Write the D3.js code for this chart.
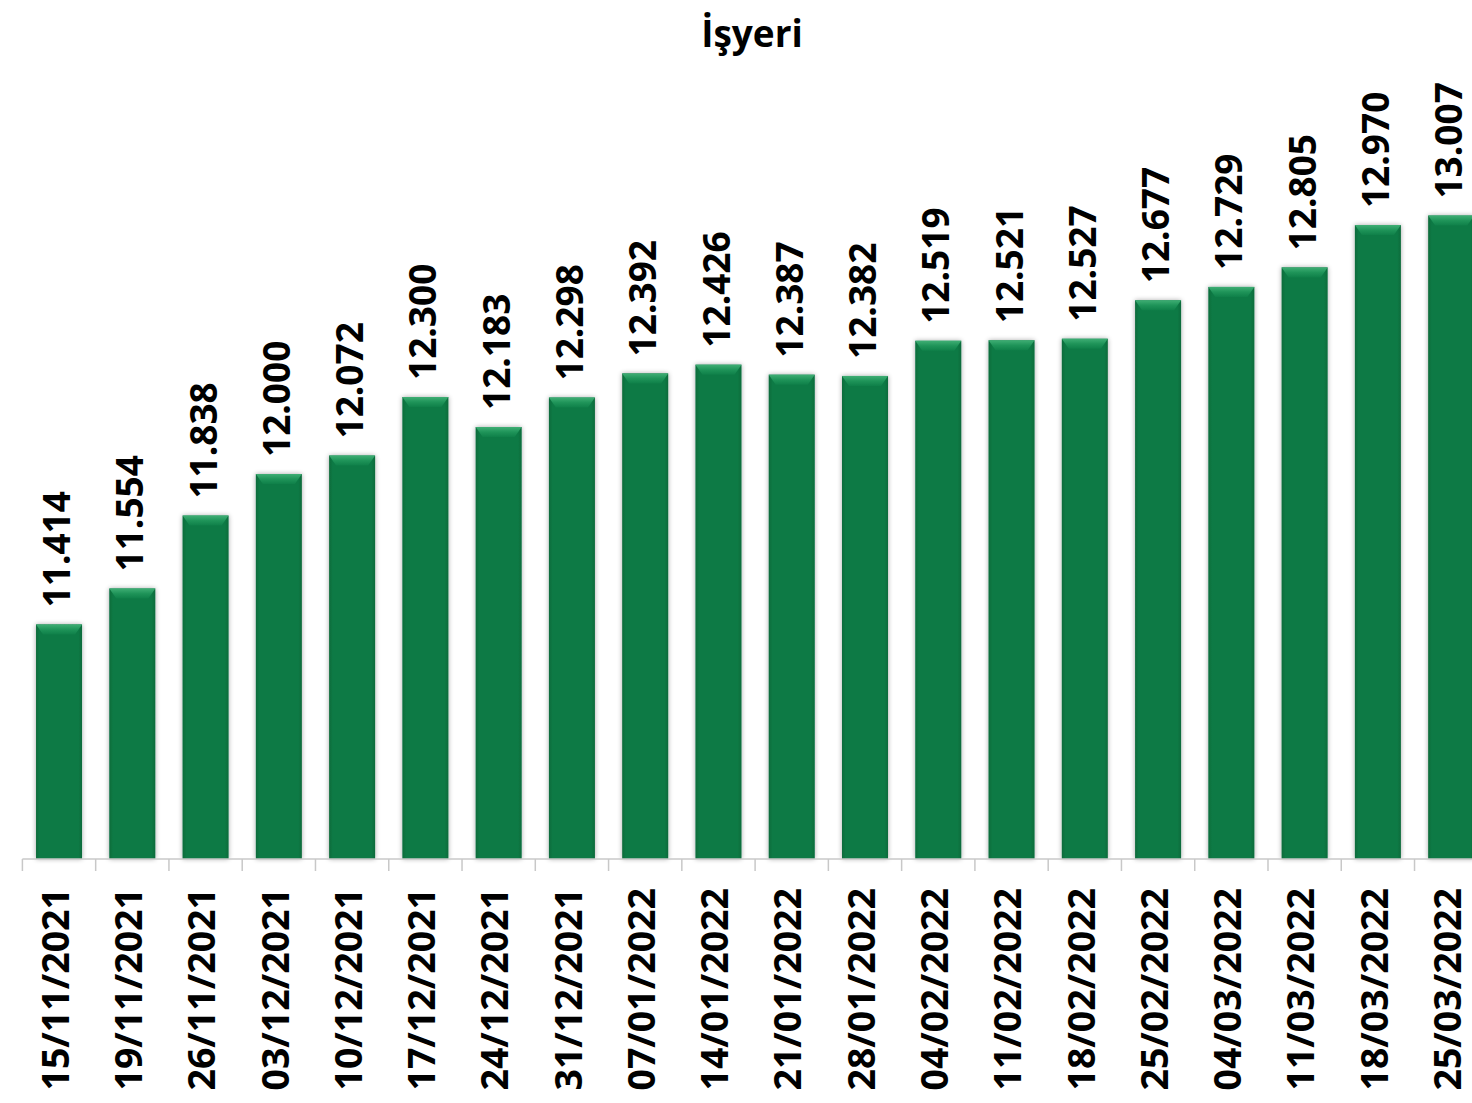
<!DOCTYPE html>
<html><head><meta charset="utf-8">
<script src="https://cdn.jsdelivr.net/npm/d3@7"></script>
<style>
html,body{margin:0;padding:0;background:#fff;}
svg{display:block;}
</style>
</head><body>
<script>
const title = "İşyeri";
const categories = ["15/11/2021","19/11/2021","26/11/2021","03/12/2021","10/12/2021","17/12/2021","24/12/2021","31/12/2021","07/01/2022","14/01/2022","21/01/2022","28/01/2022","04/02/2022","11/02/2022","18/02/2022","25/02/2022","04/03/2022","11/03/2022","18/03/2022","25/03/2022"];
const values = [11414,11554,11838,12000,12072,12300,12183,12298,12392,12426,12387,12382,12519,12521,12527,12677,12729,12805,12970,13007];
const yDomain = [10500, 13500];

const W = 1472, H = 1103;
const svg = d3.select("body").append("svg").attr("width", W).attr("height", H);
const defs = svg.append("defs");

const f = defs.append("filter").attr("id","shadow").attr("x","-30%").attr("y","-10%").attr("width","160%").attr("height","120%");
f.append("feGaussianBlur").attr("in","SourceAlpha").attr("stdDeviation",2.5).attr("result","b");
f.append("feOffset").attr("in","b").attr("dx",0).attr("dy",0).attr("result","o");
f.append("feComponentTransfer").attr("in","o").attr("result","s").append("feFuncA").attr("type","linear").attr("slope",0.35);
const m = f.append("feMerge"); m.append("feMergeNode").attr("in","s"); m.append("feMergeNode").attr("in","SourceGraphic");

const side = defs.append("linearGradient").attr("id","side").attr("x1","0").attr("x2","1").attr("y1","0").attr("y2","0");
side.append("stop").attr("offset","0").attr("stop-color","#086b3b");
side.append("stop").attr("offset","0.08").attr("stop-color","#0b7a45");
side.append("stop").attr("offset","0.92").attr("stop-color","#0b7a45");
side.append("stop").attr("offset","1").attr("stop-color","#086b3b");

const bev = defs.append("linearGradient").attr("id","bev").attr("x1","0").attr("x2","0").attr("y1","0").attr("y2","1");
bev.append("stop").attr("offset","0").attr("stop-color","#3fae74");
bev.append("stop").attr("offset","0.5").attr("stop-color","#1f9459");
bev.append("stop").attr("offset","1").attr("stop-color","#0f8049");

const x = d3.scaleBand().domain(categories).range([22.4, 22.4 + 20*73.27]).paddingInner(0.372).paddingOuter(0.186);
const y = d3.scaleLinear().domain(yDomain).range([859, 89]);

svg.append("text").attr("x", 752).attr("y", 47).attr("text-anchor","middle")
  .attr("font-family","'Open Sans', sans-serif").attr("font-weight","bold").attr("font-size",37)
  .attr("fill","#000").text(title);

const g = svg.append("g");
const bars = g.selectAll("g.bar").data(values).join("g").attr("class","bar");
bars.append("rect")
  .attr("x",(d,i)=>x(categories[i])).attr("y",d=>y(d))
  .attr("width",x.bandwidth()).attr("height",d=>y(yDomain[0])-y(d))
  .attr("fill","url(#side)").attr("filter","url(#shadow)");
bars.append("path")
  .attr("d",(d,i)=>{const x0=x(categories[i]), w=x.bandwidth(), t=y(d);
     return `M${x0},${t}L${x0+w},${t}L${x0+w-7},${t+10}L${x0+7},${t+10}Z`;})
  .attr("fill","url(#bev)");

// axis
const axisY = y(yDomain[0]);
svg.append("line").attr("x1",x.range()[0]).attr("x2",W).attr("y1",axisY).attr("y2",axisY)
  .attr("stroke","#c8c8c8").attr("stroke-width",1.5);
const ticks = categories.map(c=>x(c)-x.step()*x.paddingInner()/2).concat([x.range()[1]]);
svg.selectAll("line.tk").data(ticks).join("line").attr("class","tk")
  .attr("x1",d=>d).attr("x2",d=>d).attr("y1",axisY).attr("y2",axisY+12)
  .attr("stroke","#c8c8c8").attr("stroke-width",1.5);

// value labels
svg.selectAll("text.val").data(values).join("text").attr("class","val")
  .attr("transform",(d,i)=>`translate(${x(categories[i])+x.bandwidth()/2},${y(d)-17}) rotate(-90)`)
  .attr("dy","0.3em")
  .attr("font-family","'Open Sans', sans-serif").attr("font-weight","bold").attr("font-size",37)
  .attr("fill","#000")
  .text(d=>d3.format(",")(d).replace(/,/g,"."));

// category labels
svg.selectAll("text.cat").data(categories).join("text").attr("class","cat")
  .attr("transform",(d)=>`translate(${x(d)+x.bandwidth()/2},${axisY+29}) rotate(-90)`)
  .attr("dy","0.26em").attr("text-anchor","end")
  .attr("font-family","'Open Sans', sans-serif").attr("font-weight","bold").attr("font-size",37.5)
  .attr("fill","#000").text(d=>d);
</script>
</body></html>
